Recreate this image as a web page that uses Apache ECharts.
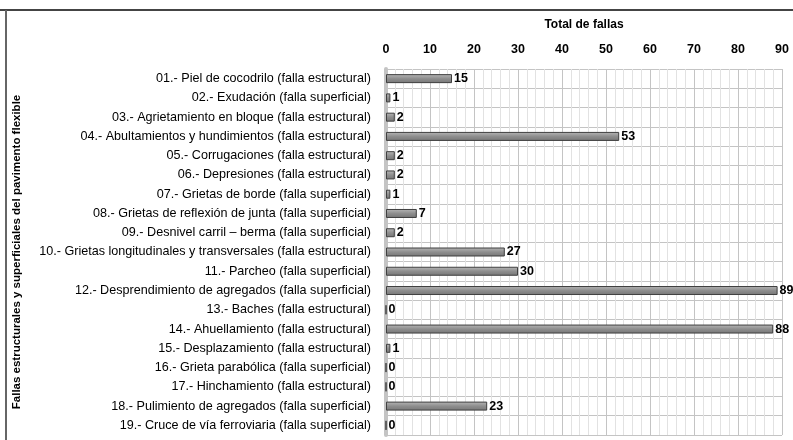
<!DOCTYPE html>
<html>
<head>
<meta charset="utf-8">
<script src="https://cdn.jsdelivr.net/npm/echarts@6/dist/echarts.min.js"></script>
<style>
  html, body { margin: 0; padding: 0; background: #fff; }
  #chart { width: 793px; height: 440px; }
</style>
</head>
<body>
<div id="chart"></div>
<script>
// categorias (de arriba hacia abajo)
const categories = [
  "01.- Piel de cocodrilo (falla estructural)",
  "02.- Exudación (falla superficial)",
  "03.- Agrietamiento en bloque (falla estructural)",
  "04.- Abultamientos y hundimientos (falla estructural)",
  "05.- Corrugaciones (falla estructural)",
  "06.- Depresiones (falla estructural)",
  "07.- Grietas de borde (falla superficial)",
  "08.- Grietas de reflexión de junta (falla superficial)",
  "09.- Desnivel carril – berma (falla superficial)",
  "10.- Grietas longitudinales y transversales (falla estructural)",
  "11.- Parcheo (falla superficial)",
  "12.- Desprendimiento de agregados (falla superficial)",
  "13.- Baches (falla estructural)",
  "14.- Ahuellamiento (falla estructural)",
  "15.- Desplazamiento (falla estructural)",
  "16.- Grieta parabólica (falla superficial)",
  "17.- Hinchamiento (falla estructural)",
  "18.- Pulimiento de agregados (falla superficial)",
  "19.- Cruce de vía ferroviaria (falla superficial)"
];
// total de fallas
const totals = [15, 1, 2, 53, 2, 2, 1, 7, 2, 27, 30, 89, 0, 88, 1, 0, 0, 23, 0];
// eje x
const xMin = 0;
const xMax = 90;
const xStep = 10;

const font = "Liberation Sans, Arial, sans-serif";
const chart = echarts.init(document.getElementById("chart"));

const option = {
  animation: false,
  textStyle: { fontFamily: font },
  grid: { left: 386, right: 11, top: 69, bottom: 5 },
  xAxis: {
    type: "value",
    position: "top",
    min: xMin,
    max: xMax,
    interval: xStep,
    name: "Total de fallas",
    nameLocation: "middle",
    nameGap: 38,
    nameTextStyle: { color: "#000", fontSize: 12, fontWeight: "bold", fontFamily: font },
    axisLine: { show: false },
    axisTick: { show: false },
    axisLabel: { color: "#000", fontSize: 12.5, fontWeight: "bold", margin: 13, fontFamily: font },
    splitLine: { show: true, lineStyle: { color: "#c4c4c4", width: 1 } },
    minorTick: { show: false, splitNumber: 5 },
    minorSplitLine: { show: true, lineStyle: { color: "#e2e2e2", width: 1 } }
  },
  yAxis: {
    type: "category",
    inverse: true,
    data: categories,
    name: "Fallas estructurales y superficiales del pavimento flexible",
    nameLocation: "middle",
    nameGap: 363,
    nameRotate: 90,
    nameTextStyle: { color: "#000", fontSize: 11.5, fontWeight: "bold", fontFamily: font },
    axisLine: { show: true, lineStyle: { color: "#c4c4c4", width: 4 } },
    axisTick: { show: false },
    axisLabel: { color: "#000", fontSize: 12.6, margin: 15, fontFamily: font },
    splitLine: { show: true, lineStyle: { color: "#c4c4c4" } }
  },
  series: [
    {
      type: "bar",
      data: totals,
      barWidth: 9,
      itemStyle: {
        color: new echarts.graphic.LinearGradient(0, 0, 0, 1, [
          { offset: 0, color: "#b8b8b8" },
          { offset: 0.5, color: "#8e8e8e" },
          { offset: 1, color: "#767676" }
        ]),
        borderColor: "#3f3f3f",
        borderWidth: 1
      },
      label: {
        show: true,
        position: "right",
        distance: 2,
        color: "#000",
        fontSize: 12.5,
        fontWeight: "bold",
        fontFamily: font
      }
    }
  ],
  graphic: [
    { type: "line", shape: { x1: 0, y1: 10, x2: 793, y2: 10 }, style: { stroke: "#444", lineWidth: 2 } },
    { type: "line", shape: { x1: 6, y1: 10, x2: 6, y2: 440 }, style: { stroke: "#666", lineWidth: 2 } }
  ]
};
chart.setOption(option);
</script>
</body>
</html>
